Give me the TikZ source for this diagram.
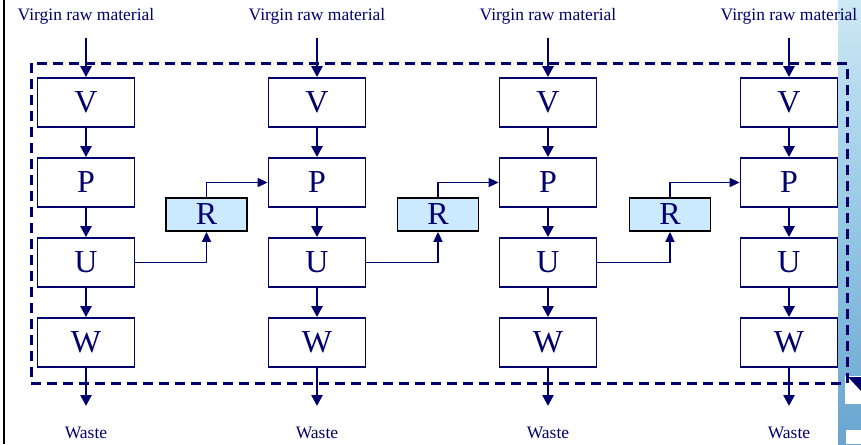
\documentclass[tikz,border=0pt]{standalone}
\usepackage{fontspec}
\setmainfont{Liberation Serif}
\usetikzlibrary{arrows.meta}
\definecolor{navy}{RGB}{0,0,110}
\definecolor{rfill}{RGB}{204,234,255}
\definecolor{skytop}{RGB}{205,232,245}
\definecolor{skymid}{RGB}{150,200,228}
\definecolor{skybot}{RGB}{105,165,208}
\begin{document}
\begin{tikzpicture}[x=1pt,y=-1pt,
  stage/.style={draw=navy,line width=1.8pt,minimum width=97pt,minimum height=49pt,inner sep=0pt,
    text=navy,font=\fontsize{32}{34}\selectfont},
  rbox/.style={draw=black,fill=rfill,line width=1.8pt,minimum width=81pt,minimum height=33pt,inner sep=0pt,
    text=navy,font=\fontsize{32}{34}\selectfont},
  lab/.style={text=navy,font=\fontsize{17.5}{19}\selectfont,inner sep=0pt},
  flow/.style={draw=navy,line width=2.5pt,-{Triangle[length=11pt,width=11pt]}},
  rflow/.style={draw=navy,line width=1.6pt,-{Triangle[length=10pt,width=9pt]}}]
\useasboundingbox (0,0) rectangle (861,444);
% right background strip
\shade[top color=skytop,bottom color=skymid] (838,0) rectangle (861,222);
\shade[top color=skymid,bottom color=skybot] (838,222) rectangle (861,444);
\fill[white] (845,376) rectangle (861,404);
\fill[navy] (848,377) -- (861,377) -- (861,391) -- cycle;
\fill[white] (846,430) rectangle (861,444);
% left rule
\draw[black,line width=2pt] (4,0) -- (4,444);
% columns
\foreach \i/\x in {1/86,2/317,3/548,4/789}{
  \node[lab] (in\i) at (\x,16) {Virgin raw material};
  \node[lab] (out\i) at (\x,433) {Waste};
  \coordinate (s\i) at (\x,38);
  \coordinate (e\i) at (\x,406);
  \node[stage] (V\i) at (\x,102.5) {V};
  \node[stage] (P\i) at (\x,182.5) {P};
  \node[stage] (U\i) at (\x,262.5) {U};
  \node[stage] (W\i) at (\x,342.5) {W};
  \draw[flow] (s\i) -- (V\i.north);
  \draw[flow] (V\i) -- (P\i);
  \draw[flow] (P\i) -- (U\i);
  \draw[flow] (U\i) -- (W\i);
  \draw[flow] (W\i.south) -- (e\i);
}
% recycling boxes
\node[rbox] (R1) at (206.5,214.5) {R};
\node[rbox] (R2) at (438,214.5) {R};
\node[rbox] (R3) at (670,214.5) {R};
\draw[rflow] (U1.east) -| (R1.south);
\draw[rflow] (R1.north) |- (P2.west);
\draw[rflow] (U2.east) -| (R2.south);
\draw[rflow] (R2.north) |- (P3.west);
\draw[rflow] (U3.east) -| (R3.south);
\draw[rflow] (R3.north) |- (P4.west);
% system boundary
\draw[navy,line width=3pt,dash pattern=on 10pt off 6pt] (31,63) rectangle (847,383);
\end{tikzpicture}
\end{document}
